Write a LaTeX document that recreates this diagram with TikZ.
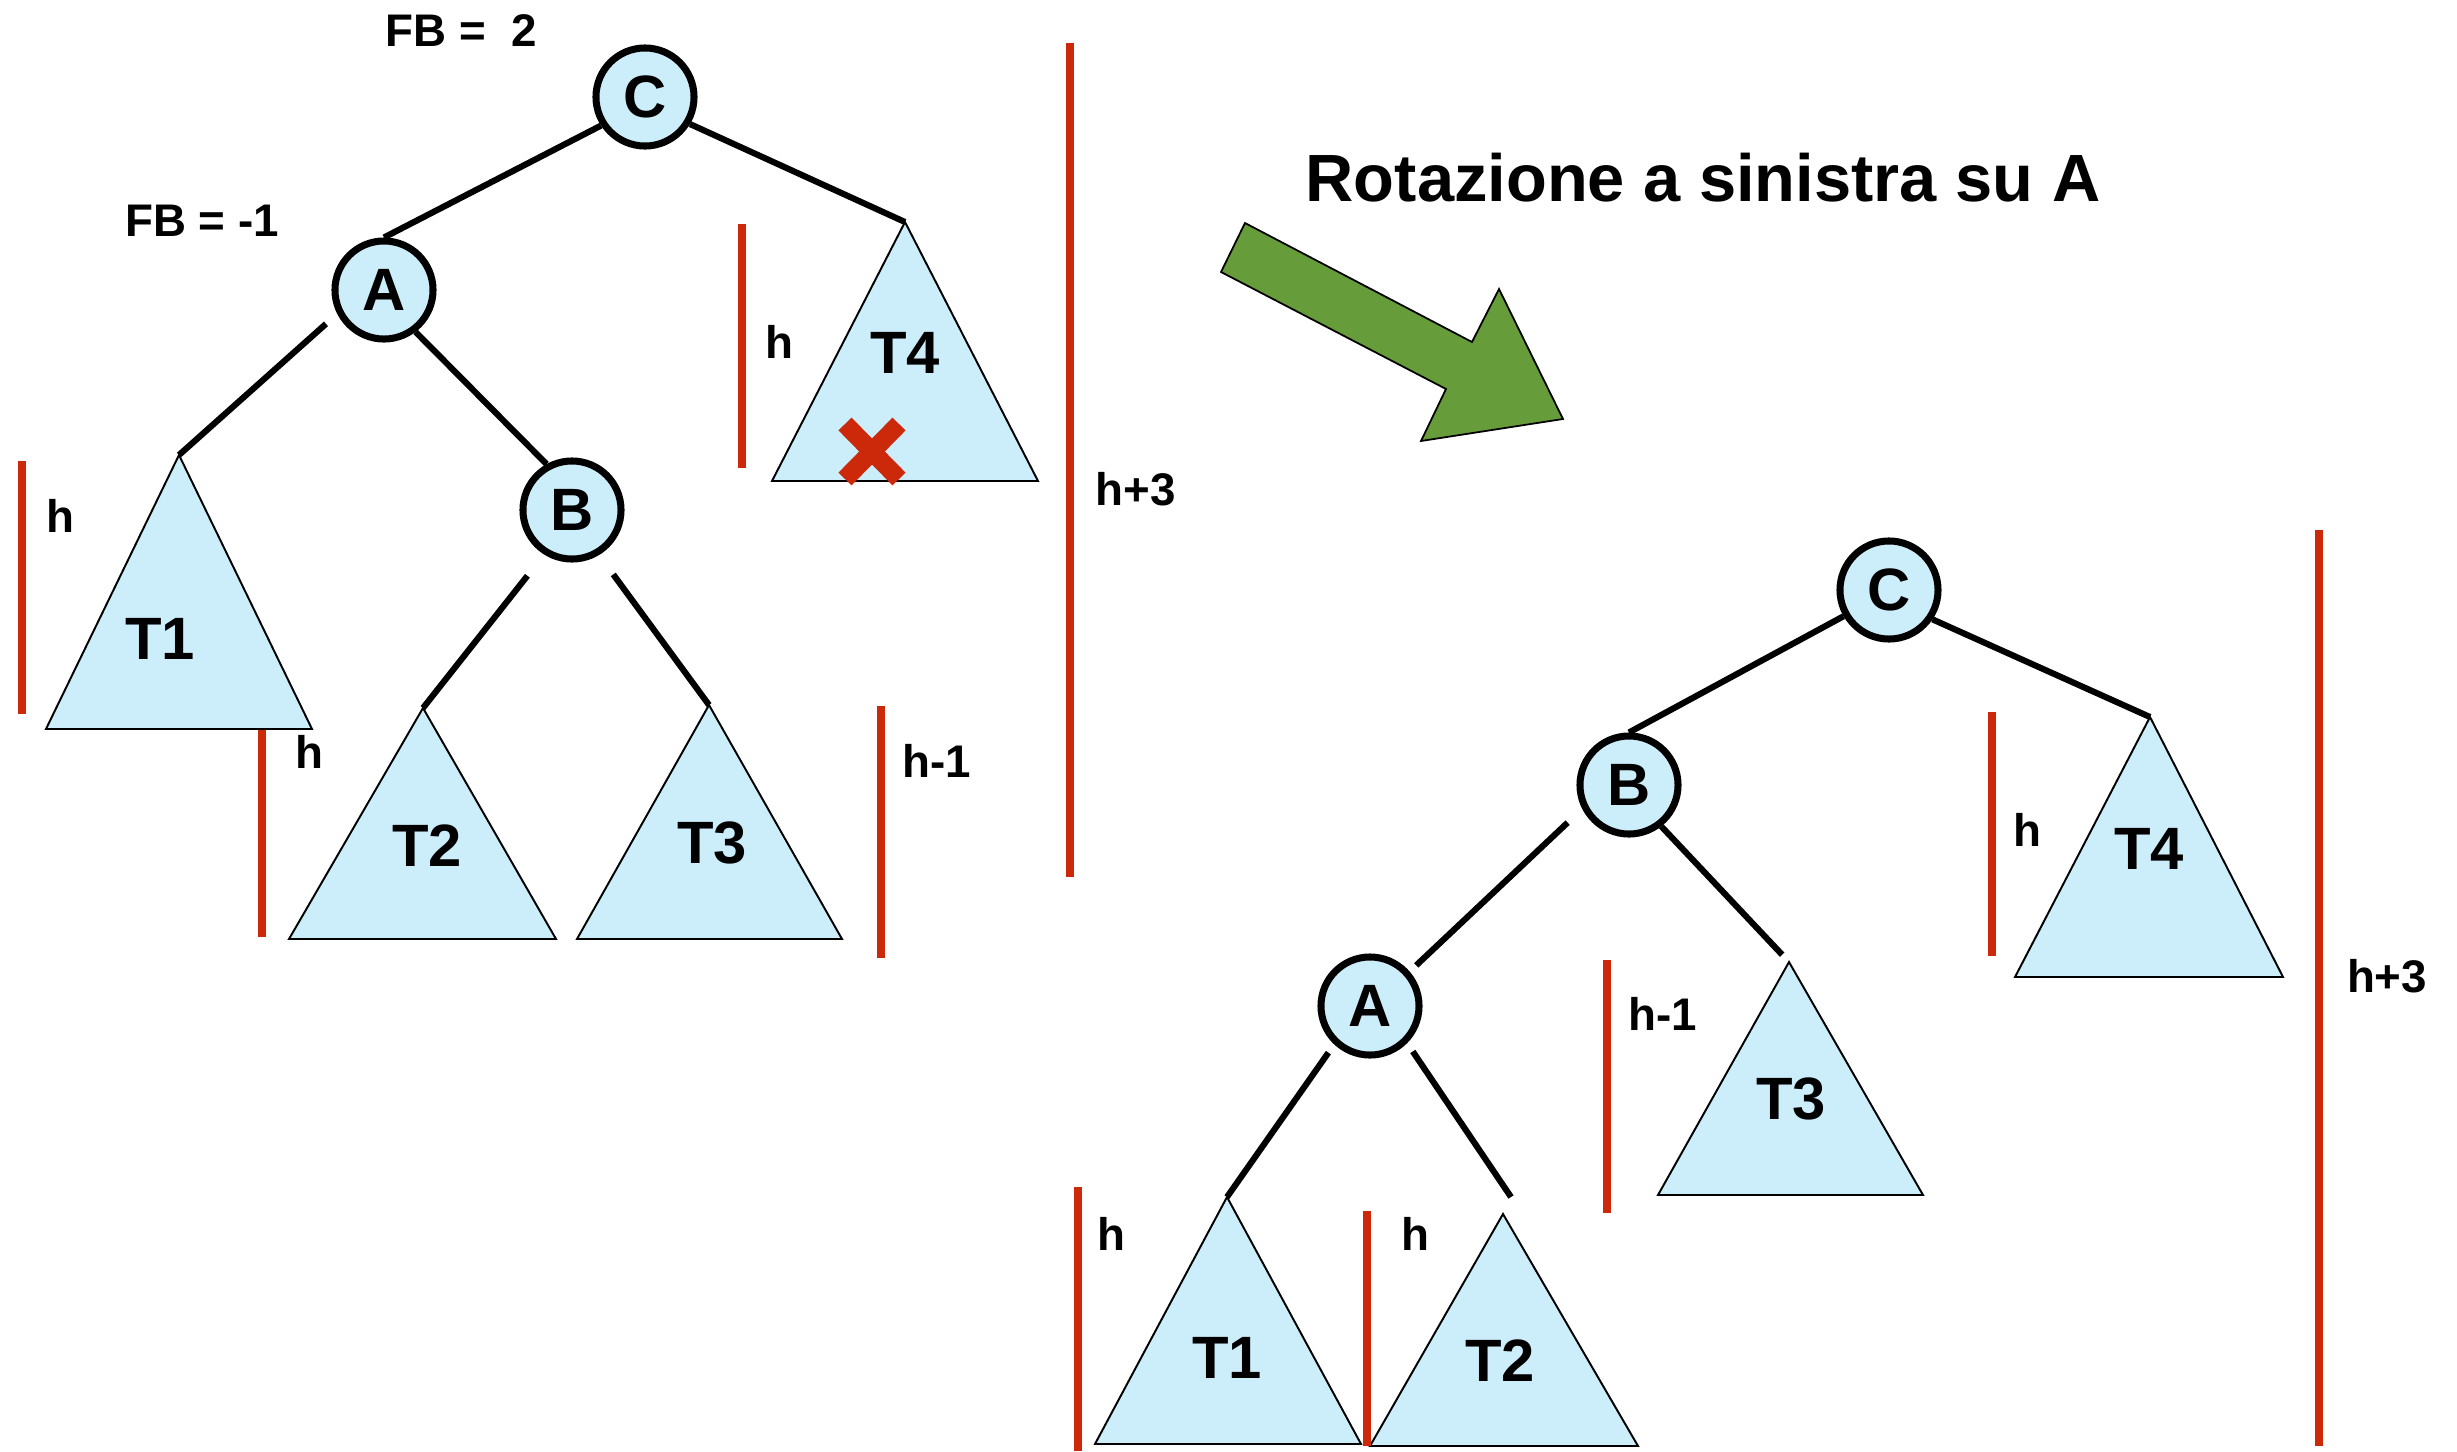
\documentclass[tikz,border=0pt]{standalone}
\usepackage{fontspec}
\setmainfont{Liberation Sans}
\usetikzlibrary{calc}
\definecolor{tfill}{RGB}{204,238,251}
\definecolor{xred}{RGB}{204,40,10}
\definecolor{agreen}{RGB}{102,156,57}
\tikzset{
 knode/.style={circle, draw=black, line width=2pt, fill=tfill, minimum size=0.98cm, inner sep=0pt, font=\fontsize{17}{20}\selectfont\bfseries},
 edge/.style={line width=1.75pt, draw=black},
 subtree/.style={draw=black, line width=0.55pt, fill=tfill},
 tlabel/.style={font=\fontsize{17}{20}\selectfont\bfseries, inner sep=0pt},
 hbar/.style={draw=xred, line width=2.2pt},
 hlabel/.style={font=\fontsize{13}{15}\selectfont\bfseries, inner sep=0pt},
 titlelabel/.style={font=\fontsize{19}{22}\selectfont\bfseries, inner sep=0pt},
}
\begin{document}
\begin{tikzpicture}[x=0.01cm, y=-0.01cm]
\useasboundingbox (0,0) rectangle (2457,1451);

% ---------- left tree: subtrees ----------
\coordinate (LT1a) at (179,455); \coordinate (LT1l) at (46,729); \coordinate (LT1r) at (312,729);
\coordinate (LT2a) at (423,708); \coordinate (LT2l) at (289,939); \coordinate (LT2r) at (556,939);
\coordinate (LT3a) at (709,705); \coordinate (LT3l) at (577,939); \coordinate (LT3r) at (842,939);
\coordinate (LT4a) at (905,222); \coordinate (LT4l) at (772,481); \coordinate (LT4r) at (1038,481);
\draw[subtree] (LT1a) -- (LT1l) -- (LT1r) -- cycle;
\draw[subtree] (LT2a) -- (LT2l) -- (LT2r) -- cycle;
\draw[subtree] (LT3a) -- (LT3l) -- (LT3r) -- cycle;
\draw[subtree] (LT4a) -- (LT4l) -- (LT4r) -- cycle;
\node[tlabel] (LT1) at (160,639) {T1};
\node[tlabel] (LT2) at (427,846) {T2};
\node[tlabel] (LT3) at (712,843) {T3};
\node[tlabel] (LT4) at (905,353) {T4};

% red cross on T4
\draw[xred, line width=5.2pt] (845,424) -- (899,479);
\draw[xred, line width=5.2pt] (899,424) -- (845,479);

% ---------- left tree: nodes ----------
\node[knode] (LC) at (645,97) {C};
\node[knode] (LA) at (384,290) {A};
\node[knode] (LB) at (572,510) {B};

\draw[edge] (LC.213) -- (LA.north);
\draw[edge] (LC.329) -- (LT4a);
\draw[edge, shorten <=0.15cm] (LA.207) -- (LT1a);
\draw[edge] (LA.307) -- (LB.119);
\draw[edge, shorten <=0.27cm] (LB.238) -- (LT2a);
\draw[edge, shorten <=0.24cm] (LB.301) -- (LT3a);

\node[hlabel] (FB2) at (461,31) {FB =\ \ 2};
\node[hlabel] (FB1) at (202,221) {FB = -1};

% ---------- left tree: height bars ----------
\coordinate (b1t) at (22,461); \coordinate (b1b) at (22,714);
\draw[hbar] (b1t) -- (b1b);
\node[hlabel] (h1) at (60,516) {h};
\coordinate (b2t) at (262,730); \coordinate (b2b) at (262,937);
\draw[hbar] (b2t) -- (b2b);
\node[hlabel] (h2) at (309,752) {h};
\coordinate (b3t) at (742,224); \coordinate (b3b) at (742,468);
\draw[hbar] (b3t) -- (b3b);
\node[hlabel] (h3) at (779,342) {h};
\coordinate (b4t) at (881,706); \coordinate (b4b) at (881,958);
\draw[hbar] (b4t) -- (b4b);
\node[hlabel] (h4) at (937,761) {h-1};
\coordinate (b5t) at (1070,43); \coordinate (b5b) at (1070,877);
\draw[hbar] (b5t) -- (b5b);
\node[hlabel] (h5) at (1136,489) {h+3};

% ---------- arrow and title ----------
\draw[draw=black, line width=0.5pt, fill=agreen]
 (1245,223) -- (1221,272) -- (1446,389) -- (1421,441) -- (1563,419) -- (1499,289) -- (1472,342) -- cycle;
\node[titlelabel] (title) at (1703,178) {Rotazione a sinistra su A};

% ---------- right tree: subtrees ----------
\coordinate (RT1a) at (1227,1197); \coordinate (RT1l) at (1095,1444); \coordinate (RT1r) at (1361,1444);
\coordinate (RT2a) at (1503,1214); \coordinate (RT2l) at (1370,1446); \coordinate (RT2r) at (1638,1446);
\coordinate (RT3a) at (1789,962); \coordinate (RT3l) at (1658,1195); \coordinate (RT3r) at (1923,1195);
\coordinate (RT4a) at (2150,717); \coordinate (RT4l) at (2015,977); \coordinate (RT4r) at (2283,977);
\draw[subtree] (RT1a) -- (RT1l) -- (RT1r) -- cycle;
\draw[subtree] (RT2a) -- (RT2l) -- (RT2r) -- cycle;
\draw[subtree] (RT3a) -- (RT3l) -- (RT3r) -- cycle;
\draw[subtree] (RT4a) -- (RT4l) -- (RT4r) -- cycle;
\node[tlabel] (RT1) at (1227,1358) {T1};
\node[tlabel] (RT2) at (1500,1361) {T2};
\node[tlabel] (RT3) at (1791,1099) {T3};
\node[tlabel] (RT4) at (2149,849) {T4};

% ---------- right tree: nodes ----------
\node[knode] (RC) at (1889,590) {C};
\node[knode] (RB) at (1629,785) {B};
\node[knode] (RA) at (1370,1006) {A};
\coordinate (RT2e) at (1511,1197);

\draw[edge] (RC.210) -- (RB.north);
\draw[edge] (RC.326) -- (RT4a);
\draw[edge, shorten <=0.2cm, shorten >=0.09cm] (RB.207) -- (RA.41);
\draw[edge, shorten >=0.1cm] (RB.308) -- (RT3a);
\draw[edge, shorten <=0.1cm] (RA.227) -- (RT1a);
\draw[edge, shorten <=0.1cm] (RA.315) -- (RT2e);

% ---------- right tree: height bars ----------
\coordinate (c1t) at (1078,1187); \coordinate (c1b) at (1078,1451);
\draw[hbar] (c1t) -- (c1b);
\node[hlabel] (k1) at (1111,1234) {h};
\coordinate (c2t) at (1367,1211); \coordinate (c2b) at (1367,1446);
\draw[hbar] (c2t) -- (c2b);
\node[hlabel] (k2) at (1415,1234) {h};
\coordinate (c3t) at (1607,960); \coordinate (c3b) at (1607,1213);
\draw[hbar] (c3t) -- (c3b);
\node[hlabel] (k3) at (1663,1014) {h-1};
\coordinate (c4t) at (1992,712); \coordinate (c4b) at (1992,956);
\draw[hbar] (c4t) -- (c4b);
\node[hlabel] (k4) at (2027,830) {h};
\coordinate (c5t) at (2319,530); \coordinate (c5b) at (2319,1446);
\draw[hbar] (c5t) -- (c5b);
\node[hlabel] (k5) at (2387,976) {h+3};
\end{tikzpicture}
\end{document}
